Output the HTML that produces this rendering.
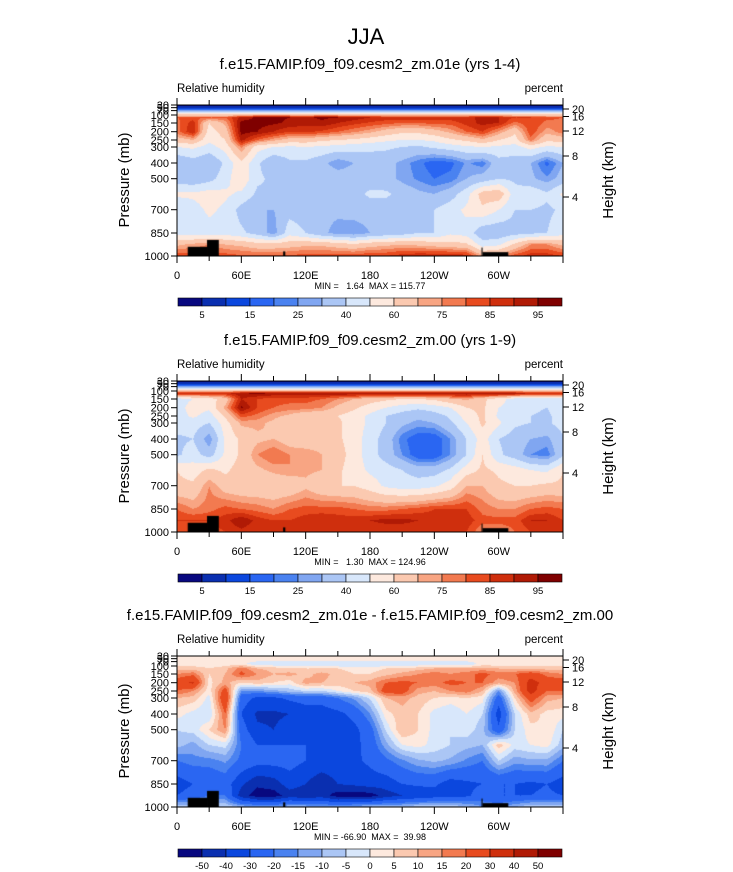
<!DOCTYPE html>
<html><head><meta charset="utf-8">
<style>
body{margin:0;background:#fff;width:733px;height:872px;overflow:hidden;position:relative;font-family:"Liberation Sans",sans-serif;}
canvas{position:absolute;}
svg{position:absolute;left:0;top:0;}
</style></head>
<body>
<canvas id="c1" width="386" height="151" style="left:177px;top:105px"></canvas>
<canvas id="c2" width="386" height="151" style="left:177px;top:381px"></canvas>
<canvas id="c3" width="386" height="151" style="left:177px;top:656px"></canvas>
<svg id="svg" width="733" height="872"></svg>
<script>
// ---- data ----
const lons = [0,15,30,45,60,75,90,105,120,135,150,165,180,195,210,225,240,255,270,285,300,315,330,345,360];
const rowPressures = [30,60,85,110,150,200,250,300,400,500,600,700,850,925,1000];
const pKnots = [30,60,85,100,110,150,200,250,300,400,500,600,700,850,925,1000];
const offKnots = [0,4,8,10,12.5,18,26.7,35,42,58,73.7,89,104.7,128,139.5,151];
const colors = ["#08087f","#0a2fb0","#0b47de","#2a66f2","#4a82f0","#80a6f1","#abc6f5","#d8e7fb","#fde9de","#fbc9b0","#f8a583","#f27a50","#e84b1f","#cf2f0d","#b01a05","#7f0000"];
const levelsRH = [5,10,15,20,25,30,40,50,60,70,75,80,85,90,95];
const labelsRH = ["5","","15","","25","","40","","60","","75","","85","","95"];
const levelsDiff = [-50,-40,-30,-20,-15,-10,-5,0,5,10,15,20,30,40,50];
const labelsDiff = ["-50","-40","-30","-20","-15","-10","-5","0","5","10","15","20","30","40","50"];
const fieldA = [
[1,1,1,1,1,1,1,1,1,1,1,1,1,1,1,1,1,1,1,1,1,1,1,1,1],
[12,12,12,12,12,12,12,12,12,12,12,12,12,12,12,12,12,12,12,12,12,12,12,12,12],
[50,50,50,50,50,50,50,50,50,50,50,50,50,50,50,50,50,50,50,50,50,50,50,50,50],
[80,82,80,80,92,96,96,95,94,96,95,93,90,88,88,88,88,88,88,92,90,85,85,82,80],
[78,88,60,72,97,97,96,94,92,94,90,87,84,82,80,80,82,82,87,92,90,78,85,78,78],
[78,90,55,65,97,95,90,85,86,84,80,76,72,66,62,62,66,72,80,85,74,62,84,72,78],
[65,70,52,60,92,80,72,66,66,62,60,58,55,52,50,50,52,58,62,68,60,55,78,62,65],
[50,52,46,54,76,54,50,48,50,48,46,44,43,42,40,38,42,45,48,50,48,46,54,48,50],
[30,35,30,42,58,42,30,38,38,33,25,30,33,33,28,22,16,18,26,22,36,35,30,18,30],
[34,32,36,46,58,42,38,40,40,38,36,36,35,33,28,24,20,22,30,34,40,38,32,26,34],
[52,52,55,52,48,38,38,38,36,35,34,36,42,42,36,32,30,35,46,65,68,44,48,42,52],
[42,46,52,48,36,30,30,36,34,32,32,34,34,34,33,35,40,46,52,58,50,40,40,38,42],
[46,44,46,46,42,36,26,46,40,32,27,25,30,33,35,40,40,48,46,32,32,36,38,40,46],
[68,72,75,70,68,64,64,66,68,68,65,62,66,68,70,68,66,64,62,45,48,62,75,75,68],
[85,83,83,83,81,81,81,81,83,83,83,83,85,85,88,90,90,90,88,72,75,83,88,88,85]
];
const fieldB = [
[1,1,1,1,1,1,1,1,1,1,1,1,1,1,1,1,1,1,1,1,1,1,1,1,1],
[12,12,12,12,12,12,12,12,12,12,12,12,12,12,12,12,12,12,12,12,12,12,12,12,12],
[55,55,55,55,55,55,55,55,55,55,55,55,55,55,55,55,55,55,55,55,55,55,55,55,55],
[88,88,88,88,94,96,94,94,94,94,94,94,94,94,94,94,94,94,94,94,94,94,88,88,88],
[45,50,55,65,90,85,82,82,82,80,75,70,65,62,60,60,62,68,72,62,55,45,45,45,45],
[45,55,52,72,96,85,80,78,78,75,68,62,55,50,45,42,45,50,60,62,50,45,42,40,45],
[45,52,45,62,82,78,72,68,62,62,60,55,48,40,35,32,35,42,55,62,48,40,40,38,45],
[45,45,40,55,72,72,68,62,60,62,62,55,48,40,32,28,30,38,50,62,52,42,40,38,45],
[38,40,25,52,62,68,70,65,62,65,62,55,45,35,22,15,15,25,40,55,40,35,30,28,38],
[38,45,35,52,62,75,80,75,75,70,65,55,45,35,25,15,15,25,40,60,42,35,25,22,38],
[60,55,62,58,65,68,72,75,72,70,62,55,48,45,40,35,35,42,55,62,58,55,50,48,60],
[62,62,75,65,62,62,62,62,68,62,60,60,55,48,45,45,48,55,70,70,62,60,60,62,62],
[80,75,78,82,80,78,75,80,82,82,82,80,78,78,80,82,85,85,85,78,75,75,80,82,80],
[85,85,85,88,95,88,85,85,88,90,88,88,90,92,92,90,88,88,88,82,82,82,90,90,85],
[85,82,82,85,88,85,85,85,85,85,85,85,85,85,85,85,85,85,85,75,75,80,85,85,85]
];
const fieldD = [
[2,2,2,2,2,2,2,2,2,2,2,2,2,2,2,2,2,2,2,2,2,2,2,2,2],
[2,2,2,2,2,2,2,2,2,2,2,2,2,2,2,2,2,2,2,2,2,2,2,2,2],
[2,2,2,2,2,-4,-4,-4,-5,-5,-6,-6,-6,-5,-5,-4,-4,-4,-4,2,2,2,2,2,2],
[8,8,5,8,18,10,8,5,5,5,5,3,3,5,5,8,10,10,10,12,10,8,8,8,8],
[15,18,5,10,22,15,10,12,8,12,8,5,5,8,12,15,18,15,18,22,18,20,25,18,15],
[25,32,3,12,5,8,5,2,12,10,8,10,12,20,22,20,18,22,20,20,12,15,35,25,25],
[20,15,2,25,-15,-15,-12,-8,-5,-5,0,5,8,25,25,12,10,15,18,10,-15,12,35,20,20],
[10,8,-2,30,-25,-32,-32,-28,-26,-26,-20,-14,-4,10,12,8,5,3,5,2,-25,5,25,12,10],
[2,-2,-5,20,-30,-42,-42,-40,-35,-35,-33,-27,-15,3,8,5,-2,-5,0,-5,-35,-5,8,3,2],
[-5,-3,5,15,-25,-38,-40,-35,-33,-35,-37,-33,-24,-4,10,5,-2,-5,-2,-8,-28,-5,3,5,-5],
[-8,-12,-5,-3,-20,-30,-30,-30,-30,-33,-35,-33,-26,-12,0,2,-2,-5,-8,-10,8,-2,0,2,-8],
[-20,-17,-17,-14,-22,-26,-26,-26,-30,-32,-32,-32,-28,-22,-16,-11,-9,-11,-16,-20,-5,-13,-11,-11,-20],
[-35,-30,-28,-25,-38,-48,-45,-35,-40,-48,-40,-38,-35,-35,-30,-28,-28,-35,-32,-30,-30,-30,-32,-30,-35],
[-30,-25,-20,-20,-45,-55,-55,-45,-48,-45,-55,-55,-55,-45,-40,-38,-35,-35,-32,-25,-30,-30,-30,-28,-30],
[-5,-8,-5,-5,-10,-12,-12,-10,-10,-12,-12,-10,-8,-8,-8,-5,-5,-5,-8,-15,-15,-10,-5,-5,-5]
];
// terrain: [lonStart, lonEnd, pressureTop]
const terrainLon0 = [10,28,99,284,285];
const terrainLon1 = [28,39,101,285,309];
const terrainTop = [940,895,970,945,975];

// ---- helpers ----
function pToOff(p){for(let i=0;i<pKnots.length-1;i++){if(p<=pKnots[i+1]){const t=(p-pKnots[i])/(pKnots[i+1]-pKnots[i]);return offKnots[i]+t*(offKnots[i+1]-offKnots[i]);}}return 151;}
const rowOffs = rowPressures.map(pToOff);
function hex(c){return [parseInt(c.substr(1,2),16),parseInt(c.substr(3,2),16),parseInt(c.substr(5,2),16)];}
const rgb = colors.map(hex);
function drawField(id, field, levels){
  const cv=document.getElementById(id), ctx=cv.getContext('2d');
  const W=cv.width,H=cv.height, img=ctx.createImageData(W,H);
  for(let y=0;y<H;y++){
    const o=y+0.5; let r=0;
    while(r<rowOffs.length-2 && o>rowOffs[r+1]) r++;
    let ty=(o-rowOffs[r])/(rowOffs[r+1]-rowOffs[r]); ty=Math.max(0,Math.min(1,ty));
    for(let x=0;x<W;x++){
      const lon=(x+0.5)/W*360; let c=Math.min(lons.length-2,Math.floor(lon/15));
      const tx=(lon-lons[c])/15;
      const v=(field[r][c]*(1-tx)+field[r][c+1]*tx)*(1-ty)+(field[r+1][c]*(1-tx)+field[r+1][c+1]*tx)*ty;
      let k=0; while(k<levels.length && v>=levels[k]) k++;
      const col=rgb[k], i=(y*W+x)*4;
      img.data[i]=col[0];img.data[i+1]=col[1];img.data[i+2]=col[2];img.data[i+3]=255;
    }
  }
  ctx.putImageData(img,0,0);
  ctx.fillStyle='#000';
  for(let t=0;t<terrainTop.length;t++){
    const x0=terrainLon0[t]/360*W, x1=terrainLon1[t]/360*W, yt=pToOff(terrainTop[t]);
    ctx.fillRect(x0,yt,x1-x0,H-yt);
  }
}
drawField('c1',fieldA,levelsRH);
drawField('c2',fieldB,levelsRH);
drawField('c3',fieldD,levelsDiff);

// ---- SVG axes ----
const svg=document.getElementById('svg'); const NS='http://www.w3.org/2000/svg';
function el(tag,attrs,parent){const e=document.createElementNS(NS,tag);for(const k in attrs)e.setAttribute(k,attrs[k]);(parent||svg).appendChild(e);return e;}
function txt(s,x,y,size,anchor,parent,extra){const t=el('text',Object.assign({x:x,y:y,'font-size':size,'text-anchor':anchor||'start','font-family':'Liberation Sans, sans-serif',fill:'#000'},extra||{}),parent);t.textContent=s;return t;}
const X0=177,X1=563,PW=386,PH=151;
const xTickLons=[0,30,60,90,120,150,180,210,240,270,300,330,360];
const xLabelLons=[0,60,120,180,240,300];
const xLabels=["0","60E","120E","180","120W","60W"];
const pLabels=["30","50","70","100","150","200","250","300","400","500","700","850","1000"];
const pLabelVals=[30,50,70,100,150,200,250,300,400,500,700,850,1000];
const hLabels=["20","16","12","8","4"];
const hOffs=[4,11.5,26,51,92];
const panels=[
 {top:105,sub:"f.e15.FAMIP.f09_f09.cesm2_zm.01e (yrs 1-4)",minmax:"MIN =   1.64  MAX = 115.77",levels:labelsRH,cb:298},
 {top:381,sub:"f.e15.FAMIP.f09_f09.cesm2_zm.00 (yrs 1-9)",minmax:"MIN =   1.30  MAX = 124.96",levels:labelsRH,cb:574},
 {top:656,sub:"f.e15.FAMIP.f09_f09.cesm2_zm.01e - f.e15.FAMIP.f09_f09.cesm2_zm.00",minmax:"MIN = -66.90  MAX =  39.98",levels:labelsDiff,cb:849}
];
const title=txt("JJA",366,44,22,'middle');


panels.forEach((P,pi)=>{
  const g=el('g',{});
  
  
  const T=P.top;
  const st=txt(P.sub,370,T-36,15,'middle',g);
  
  
  const lt=txt("Relative humidity",177,T-13,11.5,'start',g);
  
  
  const rt=txt("percent",563,T-13,11.5,'end',g);
  
  
  el('rect',{x:X0,y:T,width:PW,height:PH,fill:'none',stroke:'#000','stroke-width':1},g);
  xTickLons.forEach(l=>{const x=X0+l/360*PW;const len=(l%60===0)?7:5;
    el('line',{x1:x,x2:x,y1:T,y2:T-len,stroke:'#000'},g);el('line',{x1:x,x2:x,y1:T+PH,y2:T+PH+len,stroke:'#000'},g);});
  xLabelLons.forEach((l,i)=>{const t=txt(xLabels[i],X0+l/360*PW,T+PH+23,11,'middle',g);
    
    });
  pLabelVals.forEach((p,i)=>{const y=T+pToOff(p);el('line',{x1:X0,x2:X0-6,y1:y,y2:y,stroke:'#000'},g);
    const t=txt(pLabels[i],X0-8,y+4,11,'end',g);
    
    });
  hOffs.forEach((o,i)=>{const y=T+o;el('line',{x1:X1,x2:X1+6,y1:y,y2:y,stroke:'#000'},g);
    const t=txt(hLabels[i],X1+9,y+4,11,'start',g);
    
    });
  const ya=txt("Pressure (mb)",0,0,15,'middle',g,{transform:`translate(129,${T+75}) rotate(-90)`});
  
  
  const ha=txt("Height (km)",0,0,15,'middle',g,{transform:`translate(613,${T+75}) rotate(-90)`});
  
  
  const mm=txt(P.minmax,370,T+PH+33,9,'middle',g,{style:'white-space:pre'});
  
  
  // colorbar
  const cb=el('g',{},g);
  
  
  const bw=384/16;
  colors.forEach((c,i)=>{const r=el('rect',{x:178+i*bw,y:P.cb,width:bw,height:8,fill:c,stroke:'#000','stroke-width':0.6},cb);
    
    });
  P.levels.forEach((s,i)=>{if(!s)return;const t=txt(s,178+(i+1)*bw,P.cb+20,9.5,'middle',cb);
    
    });
});
</script>
</body></html>
